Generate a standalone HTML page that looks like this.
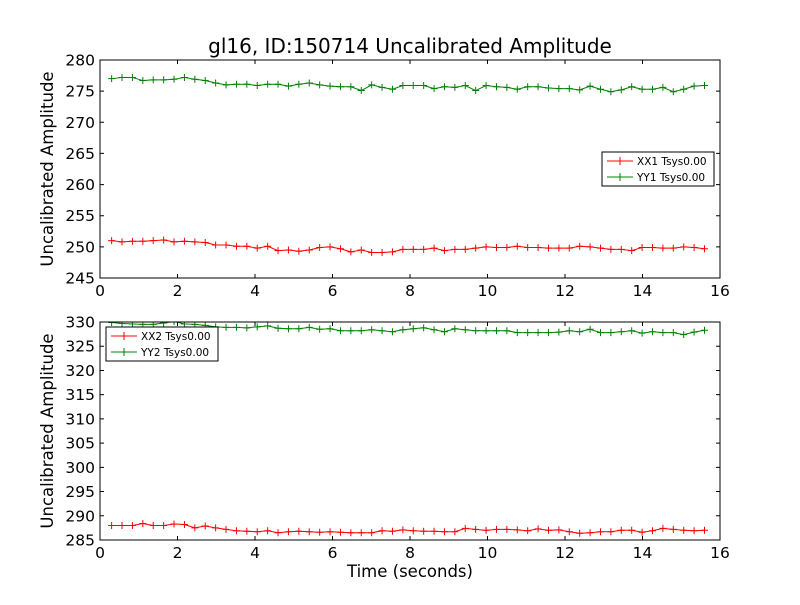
<!DOCTYPE html>
<html><head><meta charset="utf-8"><style>
body{margin:0;background:#fff;}
svg text{font-family:"DejaVu Sans","Liberation Sans",sans-serif;}
</style></head><body>
<svg id="chart" width="800" height="600" xmlns="http://www.w3.org/2000/svg">
<rect width="800" height="600" fill="#fff"/>
<text x="410" y="53" font-size="20" text-anchor="middle">gl16, ID:150714 Uncalibrated Amplitude</text>
<g id="top"></g><g id="bot"></g>
<text x="410" y="577" font-size="16.5" text-anchor="middle">Time (seconds)</text>
</svg>
<script>
const yy1=[277,277.2,277.2,276.7,276.8,276.8,276.9,277.2,276.9,276.7,276.3,276.0,276.1,276.1,275.9,276.1,276.1,275.8,276.1,276.3,276.0,275.8,275.7,275.7,275.1,276.0,275.6,275.3,275.9,275.9,275.9,275.4,275.7,275.6,275.9,275.1,275.9,275.7,275.6,275.3,275.7,275.7,275.5,275.4,275.4,275.2,275.8,275.3,274.9,275.2,275.7,275.3,275.3,275.6,274.9,275.3,275.8,275.9];
const xx1=[251.0,250.8,250.9,250.9,251.0,251.1,250.8,250.9,250.8,250.7,250.3,250.3,250.1,250.1,249.8,250.1,249.4,249.5,249.3,249.5,249.9,250.0,249.7,249.2,249.5,249.1,249.1,249.2,249.6,249.6,249.6,249.8,249.4,249.6,249.6,249.8,250.0,249.9,249.9,250.1,249.9,249.9,249.8,249.8,249.8,250.1,250.0,249.8,249.6,249.6,249.4,249.9,249.9,249.8,249.8,250.0,249.9,249.7];
const yy2=[329.9,329.7,329.6,329.5,329.5,329.8,330.1,329.6,329.5,329.3,329.0,328.9,328.9,328.8,329.0,329.2,328.7,328.6,328.6,328.9,328.5,328.6,328.2,328.2,328.2,328.4,328.2,328.0,328.4,328.6,328.8,328.4,328.0,328.6,328.4,328.2,328.2,328.2,328.2,327.8,327.8,327.8,327.8,327.9,328.2,328.0,328.5,327.8,327.8,328.0,328.2,327.7,328.0,327.8,327.8,327.4,327.9,328.3];
const xx2=[288.0,288.0,288.0,288.4,288.0,288.0,288.3,288.2,287.5,287.9,287.5,287.2,286.9,286.8,286.7,286.9,286.5,286.7,286.8,286.7,286.6,286.7,286.6,286.5,286.5,286.5,286.9,286.8,287.1,286.9,286.8,286.8,286.7,286.7,287.4,287.2,287.0,287.2,287.2,287.1,286.9,287.3,287.0,287.1,286.7,286.4,286.5,286.7,286.7,287.0,287.0,286.6,286.9,287.4,287.2,287.0,286.9,287.0];
const xTicks=[0,2,4,6,8,10,12,14,16];
const yTicksTop=[245,250,255,260,265,270,275,280];
const yTicksBot=[285,290,295,300,305,310,315,320,325,330];
const t0=0.3, dt=(15.6-0.3)/57;
const NS="http://www.w3.org/2000/svg";
function mk(p,tag,a){const e=document.createElementNS(NS,tag);for(const k in a)e.setAttribute(k,a[k]);p.appendChild(e);return e;}
function panel(g,top,bottom,ymin,ymax,yticks,s1,s2,n1,n2,legX,legY,pre){
  const L=100,R=720;
  const X=v=>L+(v/16)*(R-L), Y=v=>bottom-(v-ymin)/(ymax-ymin)*(bottom-top);
  const cid='clip'+pre;
  const d=mk(g,'defs',{});const cp=mk(d,'clipPath',{id:cid});mk(cp,'rect',{x:L,y:top,width:R-L,height:bottom-top});
  [[s1,'#ff0000',n1],[s2,'#008000',n2]].forEach(([s,c,nm])=>{
    const sg=mk(g,'g',{'clip-path':`url(#${cid})`});
    
    
    mk(sg,'polyline',{points:s.map((v,i)=>X(t0+i*dt)+','+Y(v)).join(' '),fill:'none',stroke:c,'stroke-width':1});
    s.forEach((v,i)=>{const x=X(t0+i*dt),y=Y(v);
      mk(sg,'path',{d:`M${x-3.5},${y}H${x+3.5}M${x},${y-3.5}V${y+3.5}`,stroke:c,'stroke-width':1});});
  });
  const fr=mk(g,'rect',{x:L,y:top,width:R-L,height:bottom-top,fill:'none',stroke:'#000','stroke-width':1});
  
  
  xTicks.forEach(v=>{const x=X(v);
    mk(g,'path',{d:`M${x},${bottom}v-4M${x},${top}v4`,stroke:'#000'});
    const t=mk(g,'text',{x:x,y:bottom+18,'font-size':15.5,'text-anchor':'middle'});t.textContent=v;
    
    });
  yticks.forEach(v=>{const y=Y(v);
    mk(g,'path',{d:`M${L},${y}h4M${R},${y}h-4`,stroke:'#000'});
    const t=mk(g,'text',{x:L-5,y:y+5.5,'font-size':15.5,'text-anchor':'end'});t.textContent=v;
    
    });
  const yt=mk(g,'text',{x:0,y:0,'font-size':16.5,'text-anchor':'middle',transform:`translate(53,${(top+bottom)/2}) rotate(-90)`});
  yt.textContent='Uncalibrated Amplitude';
  
  
  const lg=mk(g,'g',{});
  
  
  mk(lg,'rect',{x:legX,y:legY,width:112,height:34,fill:'#fff',stroke:'#000'});
  [[n1,'#ff0000'],[n2,'#008000']].forEach(([nm,c],i)=>{const y=legY+9+i*16;
    mk(lg,'path',{d:`M${legX+5},${y}h26M${legX+18},${y-4}v8`,stroke:c});
    const t=mk(lg,'text',{x:legX+35,y:y+4,'font-size':10.5});t.textContent=nm+' Tsys0.00';
    
    });
}
panel(document.getElementById('top'),60,278,245,280,yTicksTop,xx1,yy1,'XX1','YY1',602,152,'top');
panel(document.getElementById('bot'),322,540,285,330,yTicksBot,xx2,yy2,'XX2','YY2',106,327,'bottom');
</script>
</body></html>
